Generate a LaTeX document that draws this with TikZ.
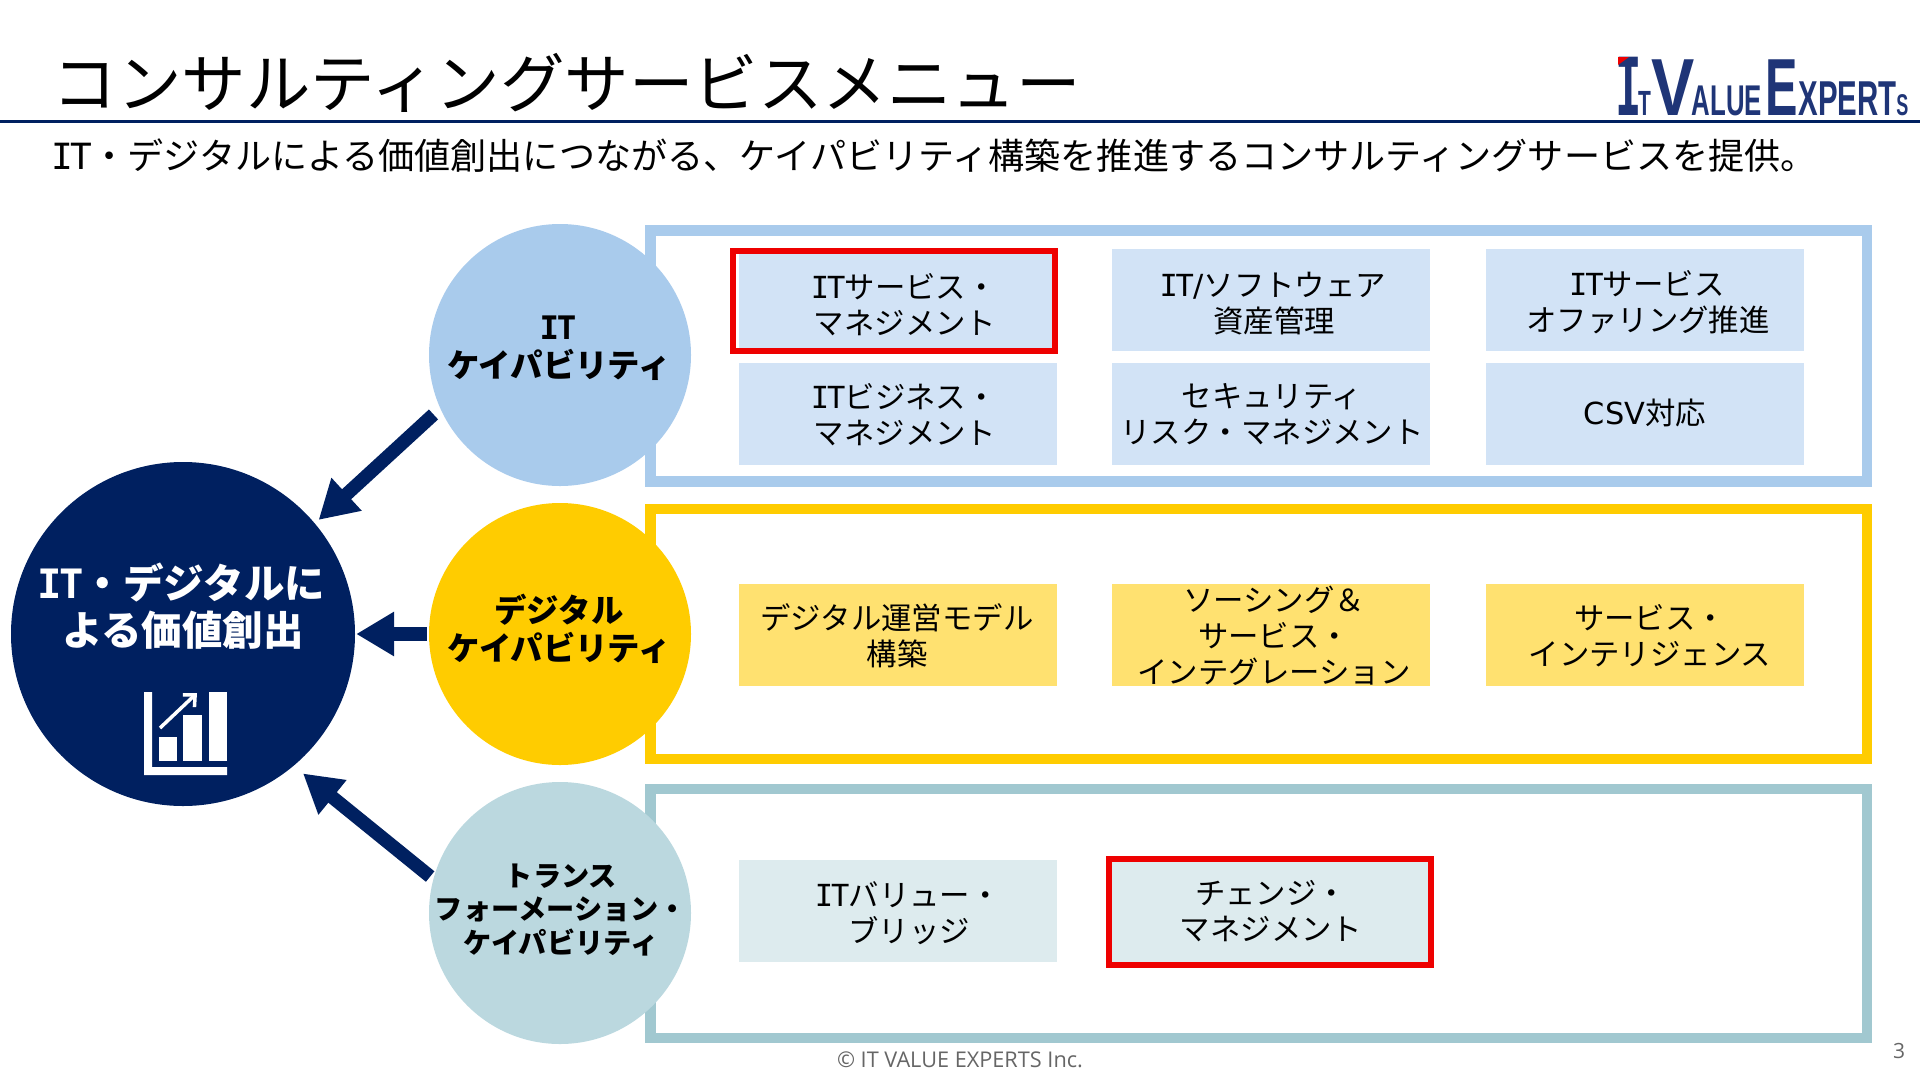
\documentclass[tikz,border=0pt]{standalone}
\usepackage{fontspec}
\setmainfont{Noto Sans CJK JP}
\newfontfamily\monof{DejaVu Sans Mono}
\newfontfamily\latf{DejaVu Sans}
\newfontfamily\footf{Open Sans}
\newfontfamily\logof[FakeStretch=0.6]{Liberation Sans}
\newfontfamily\logovf[FakeStretch=0.8]{Liberation Sans}
\newfontfamily\logoif[FakeStretch=0.55]{DejaVu Sans Mono}
\usetikzlibrary{arrows.meta}
\definecolor{navy}{HTML}{002060}
\definecolor{logoblue}{HTML}{1F3577}
\definecolor{itline}{HTML}{A9CBEC}
\definecolor{itbox}{HTML}{D2E3F6}
\definecolor{digline}{HTML}{FFCC00}
\definecolor{digbox}{HTML}{FFE170}
\definecolor{trline}{HTML}{A1C8D0}
\definecolor{trcirc}{HTML}{BBD8DF}
\definecolor{trbox}{HTML}{DDEBEE}
\definecolor{markred}{HTML}{EE0000}
\newcommand{\itmark}{{\monof\kern-.08em I\kern-.07em T\kern-.02em}}
\tikzset{
  framebox/.style={line width=10.5pt, fill=white},
  capcirc/.style={circle, minimum size=262pt, inner sep=0pt},
  captext/.style={align=center, inner sep=0pt, font=\fontsize{32.4}{38}\selectfont\bfseries},
  menubox/.style={minimum width=318pt, minimum height=102pt, inner sep=0pt},
  menutext/.style={align=center, inner sep=0pt, font=\fontsize{30.4}{36}\selectfont},
  redmark/.style={draw=markred, line width=6pt, minimum width=322pt, minimum height=100pt},
  blockarrow/.style={navy, line width=13.5pt, -{Triangle[length=38pt, width=42pt]}},
}
\begin{document}
\begin{tikzpicture}[x=1pt, y=-1pt]
  \useasboundingbox (0,0) rectangle (1920,1080);
  % Title
  \node[anchor=west, inner sep=0pt, font=\fontsize{64.5}{64.5}\selectfont] (title) at (52.5,83) {コンサルティングサービスメニュー};
  \draw[navy, line width=3pt] (0,121) -- (1920,121);
  \node[anchor=west, inner sep=0pt, font=\fontsize{36.1}{40}\selectfont] (subtitle) at (54,156)
    {\itmark・デジタルによる価値創出につながる、ケイパビリティ構築を推進するコンサルティングサービスを提供。};
  % Logo
  \node[anchor=base west, inner sep=0pt, text=logoblue] (logo) at (1615,115) {\logof\bfseries
    {\logoif\fontsize{80}{80}\selectfont I}\kern-3pt{\fontsize{35}{35}\selectfont T}{\logovf\fontsize{81}{81}\selectfont V}\kern-3pt{\fontsize{43}{43}\selectfont ALUE}\kern4pt{\fontsize{81}{81}\selectfont E}{\fontsize{49}{49}\selectfont XPERT}{\fontsize{30}{30}\selectfont S}};
  \fill[markred] (1618,57) -- (1629,57) -- (1618,65) -- cycle;
  % Frames
  \draw[framebox, draw=itline] (650.5,230.5) rectangle (1867,481.5);
  \draw[framebox, draw=digline] (650.5,509) rectangle (1867,759);
  \draw[framebox, draw=trline] (650.5,789) rectangle (1867,1038);
  % Capability circles
  \node[capcirc, fill=itline] (itc) at (560,355) {};
  \node[capcirc, fill=digline] (digc) at (560,634) {};
  \node[capcirc, fill=trcirc] (trc) at (560,913) {};
  \node[captext] (itlab) at (559,348) {\itmark\\ケイパビリティ};
  \node[captext] (diglab) at (559,629) {デジタル\\ケイパビリティ};
  \node[captext, font=\fontsize{28.2}{33.5}\selectfont\bfseries] (trlab) at (561,910) {トランス\\フォーメーション・\\ケイパビリティ};
  % Value circle
  \node[circle, minimum size=344pt, inner sep=0pt, fill=navy] (mainc) at (183,634) {};
  \node[align=center, inner sep=0pt, text=white, font=\fontsize{40.5}{47}\selectfont\bfseries] (mainlab) at (183,606) {\itmark・デジタルに\\よる価値創出};
  % Chart icon
  \fill[white] (144,692) -- (152,692) -- (152,767) -- (227,767) -- (227,775) -- (144,775) -- cycle;
  \fill[white] (159,737) rectangle (177,761);
  \fill[white] (183,715) rectangle (202,761);
  \fill[white] (209,692) rectangle (227,761);
  \draw[white, line width=3.5pt, -{Straight Barb[length=9pt, width=17pt]}] (160,728) -- (197,693);
  % Arrows
  \draw[blockarrow, shorten >=5pt, shorten <=9pt] (itc.204) -- (mainc.40);
  \draw[blockarrow, shorten >=1pt, shorten <=2pt] (digc.west) -- (mainc.east);
  \draw[blockarrow, shorten >=12pt, shorten <=4pt] (trc.165) -- (mainc.-50);
  % Menu boxes
  \node[menubox, fill=itbox] (b11) at (898,300) {};
  \node[menubox, fill=itbox] (b12) at (1271,300) {};
  \node[menubox, fill=itbox] (b13) at (1644.5,300) {};
  \node[menubox, fill=itbox] (b21) at (898,414) {};
  \node[menubox, fill=itbox] (b22) at (1271,414) {};
  \node[menubox, fill=itbox] (b23) at (1644.5,414) {};
  \node[menubox, fill=digbox] (b31) at (898,635) {};
  \node[menubox, fill=digbox] (b32) at (1271,635) {};
  \node[menubox, fill=digbox] (b33) at (1644.5,635) {};
  \node[menubox, fill=trbox] (b41) at (898,911) {};
  \node[menubox, fill=trbox] (b42) at (1271,912) {};
  % Red marks
  \node[redmark] (mark1) at (894,301) {};
  \node[redmark, minimum height=106pt] (mark2) at (1270,912) {};
  % Menu labels
  \node[menutext] (t11) at (905,305) {\itmark サービス・\\マネジメント};
  \node[menutext] (t12) at (1274,304) {\itmark{\latf /}ソフトウェア\\資産管理};
  \node[menutext] (t13) at (1648,302) {\itmark サービス\\オファリング推進};
  \node[menutext] (t21) at (905,415) {\itmark ビジネス・\\マネジメント};
  \node[menutext] (t22) at (1272,414) {セキュリティ\\リスク・マネジメント};
  \node[menutext] (t23) at (1645,413) {{\latf CSV}対応};
  \node[menutext] (t31) at (897,636) {デジタル運営モデル\\構築};
  \node[menutext] (t32) at (1274,636) {ソーシング＆\\サービス・\\インテグレーション};
  \node[menutext] (t33) at (1650,636) {サービス・\\インテリジェンス};
  \node[menutext] (t41) at (909,913) {\itmark バリュー・\\ブリッジ};
  \node[menutext] (t42) at (1271,911) {チェンジ・\\マネジメント};
  % Footer
  \node[inner sep=0pt, text=black!60, font=\fontsize{21.7}{24}\selectfont\footf] (foot) at (960,1060) {© IT VALUE EXPERTS Inc.};
  \node[inner sep=0pt, text=black!60, font=\fontsize{21}{24}\selectfont\footf] (pageno) at (1899,1051) {3};
\end{tikzpicture}
\end{document}
